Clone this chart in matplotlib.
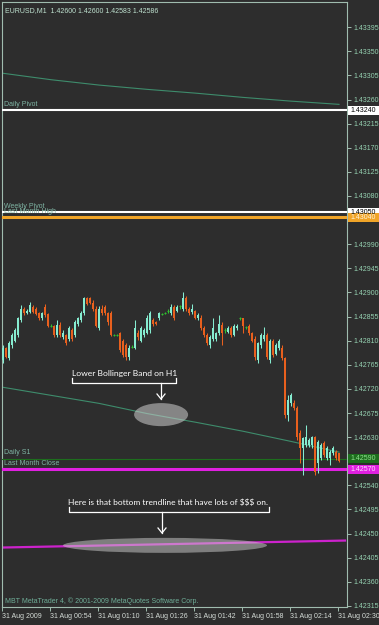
import numpy as np
import matplotlib
matplotlib.use("Agg")
import matplotlib.pyplot as plt
from matplotlib.patches import Ellipse, Rectangle
from matplotlib.lines import Line2D
from matplotlib.transforms import blended_transform_factory

W, H = 379, 625

# EURUSD M1 candles, 31 Aug 2009 00:38 .. 02:30
opens = [1.42773, 1.42796, 1.42777, 1.42801, 1.42810, 1.42820, 1.42848, 1.42870, 1.42861, 1.42863,
         1.42872, 1.42870, 1.42861, 1.42852, 1.42872, 1.42859, 1.42838, 1.42838, 1.42820, 1.42840,
         1.42816, 1.42820, 1.42814, 1.42829, 1.42820, 1.42842, 1.42848, 1.42861, 1.42889, 1.42889,
         1.42881, 1.42870, 1.42833, 1.42870, 1.42872, 1.42861, 1.42861, 1.42820, 1.42820, 1.42824,
         1.42810, 1.42801, 1.42779, 1.42799, 1.42797, 1.42825, 1.42810, 1.42820, 1.42825, 1.42829,
         1.42848, 1.42844, 1.42852, 1.42859, 1.42861, 1.42866, 1.42861, 1.42872, 1.42866, 1.42874,
         1.42870, 1.42889, 1.42870, 1.42863, 1.42866, 1.42852, 1.42853, 1.42833, 1.42820, 1.42801,
         1.42814, 1.42814, 1.42824, 1.42840, 1.42829, 1.42827, 1.42833, 1.42820, 1.42833, 1.42852,
         1.42852, 1.42835, 1.42838, 1.42824, 1.42814, 1.42773, 1.42801, 1.42814, 1.42820, 1.42773,
         1.42810, 1.42786, 1.42796, 1.42797, 1.42777, 1.42671, 1.42693, 1.42693, 1.42684, 1.42637,
         1.42609, 1.42615, 1.42615, 1.42615, 1.42630, 1.42582, 1.42591, 1.42619, 1.42591, 1.42591,
         1.42600, 1.42602, 1.42600]
highs = [1.42801, 1.42799, 1.42809, 1.42824, 1.42833, 1.42855, 1.42876, 1.42872, 1.42870, 1.42883,
         1.42876, 1.42872, 1.42863, 1.42863, 1.42879, 1.42861, 1.42842, 1.42840, 1.42848, 1.42844,
         1.42829, 1.42822, 1.42837, 1.42833, 1.42848, 1.42855, 1.42865, 1.42891, 1.42891, 1.42891,
         1.42885, 1.42874, 1.42874, 1.42876, 1.42876, 1.42863, 1.42865, 1.42822, 1.42822, 1.42827,
         1.42814, 1.42805, 1.42801, 1.42801, 1.42848, 1.42829, 1.42837, 1.42833, 1.42857, 1.42865,
         1.42852, 1.42846, 1.42863, 1.42861, 1.42863, 1.42870, 1.42879, 1.42876, 1.42876, 1.42876,
         1.42900, 1.42893, 1.42872, 1.42879, 1.42868, 1.42861, 1.42857, 1.42837, 1.42824, 1.42820,
         1.42852, 1.42827, 1.42857, 1.42844, 1.42833, 1.42837, 1.42837, 1.42842, 1.42842, 1.42855,
         1.42853, 1.42838, 1.42842, 1.42827, 1.42818, 1.42807, 1.42824, 1.42835, 1.42824, 1.42814,
         1.42814, 1.42805, 1.42814, 1.42801, 1.42779, 1.42708, 1.42712, 1.42699, 1.42689, 1.42643,
         1.42630, 1.42652, 1.42628, 1.42633, 1.42633, 1.42624, 1.42619, 1.42622, 1.42613, 1.42606,
         1.42613, 1.42606, 1.42600]
lows = [1.42769, 1.42777, 1.42773, 1.42797, 1.42807, 1.42816, 1.42844, 1.42857, 1.42859, 1.42861,
        1.42861, 1.42857, 1.42848, 1.42848, 1.42855, 1.42835, 1.42835, 1.42816, 1.42816, 1.42816,
        1.42814, 1.42801, 1.42810, 1.42810, 1.42816, 1.42838, 1.42844, 1.42857, 1.42876, 1.42878,
        1.42866, 1.42835, 1.42829, 1.42857, 1.42857, 1.42840, 1.42818, 1.42818, 1.42818, 1.42788,
        1.42779, 1.42773, 1.42773, 1.42796, 1.42794, 1.42812, 1.42807, 1.42816, 1.42822, 1.42825,
        1.42838, 1.42840, 1.42848, 1.42857, 1.42859, 1.42861, 1.42857, 1.42848, 1.42863, 1.42870,
        1.42866, 1.42866, 1.42857, 1.42859, 1.42850, 1.42848, 1.42829, 1.42816, 1.42801, 1.42797,
        1.42810, 1.42810, 1.42820, 1.42801, 1.42825, 1.42824, 1.42816, 1.42818, 1.42829, 1.42848,
        1.42824, 1.42831, 1.42820, 1.42807, 1.42773, 1.42769, 1.42797, 1.42810, 1.42775, 1.42769,
        1.42779, 1.42783, 1.42792, 1.42773, 1.42665, 1.42661, 1.42689, 1.42680, 1.42624, 1.42582,
        1.42559, 1.42611, 1.42611, 1.42609, 1.42559, 1.42563, 1.42587, 1.42593, 1.42587, 1.42578,
        1.42596, 1.42587, 1.42583]
closes = [1.42796, 1.42779, 1.42805, 1.42820, 1.42829, 1.42852, 1.42870, 1.42861, 1.42866, 1.42876,
          1.42863, 1.42859, 1.42852, 1.42861, 1.42857, 1.42838, 1.42838, 1.42820, 1.42840, 1.42820,
          1.42825, 1.42805, 1.42833, 1.42814, 1.42844, 1.42852, 1.42861, 1.42889, 1.42879, 1.42881,
          1.42870, 1.42838, 1.42870, 1.42861, 1.42861, 1.42844, 1.42820, 1.42820, 1.42820, 1.42792,
          1.42783, 1.42779, 1.42797, 1.42799, 1.42833, 1.42816, 1.42833, 1.42829, 1.42853, 1.42861,
          1.42842, 1.42842, 1.42861, 1.42859, 1.42861, 1.42866, 1.42872, 1.42852, 1.42872, 1.42874,
          1.42889, 1.42870, 1.42861, 1.42870, 1.42853, 1.42857, 1.42833, 1.42820, 1.42805, 1.42816,
          1.42833, 1.42824, 1.42842, 1.42825, 1.42829, 1.42833, 1.42820, 1.42838, 1.42838, 1.42852,
          1.42838, 1.42835, 1.42824, 1.42810, 1.42779, 1.42805, 1.42820, 1.42820, 1.42779, 1.42810,
          1.42783, 1.42801, 1.42810, 1.42777, 1.42671, 1.42699, 1.42708, 1.42684, 1.42630, 1.42609,
          1.42628, 1.42630, 1.42624, 1.42630, 1.42565, 1.42620, 1.42615, 1.42596, 1.42609, 1.42602,
          1.42609, 1.42591, 1.42586]

# H1 Bollinger band lines and the weekly trendline, sampled at the time ticks
band_times = [0, 16, 32, 48, 64, 80, 96, 112]
upper_band = [1.43309, 1.43297, 1.43287, 1.43279, 1.43272, 1.43264, 1.43257, 1.43251]
lower_band = [1.42723, 1.42708, 1.42693, 1.42674, 1.42658, 1.42641, 1.42622, 1.42602]
trend_times = [0, 114]
trend_values = [1.42424, 1.42437]

level_names = ["Daily Pivot", "Weekly Pivot", "Last Month High", "Daily S1", "Last Month Close"]
level_prices = [1.43240, 1.43050, 1.43040, 1.42590, 1.42570]
level_colors = ["#ffffff", "#ffffff", "#f0a428", "#1d6e1d", "#e020e0"]
level_widths = [1.5, 1.5, 2.2, 0.8, 2.2]
box_text_colors = ["#000000", "#000000", "#fff4dc", "#8fe08f", "#ffe0ff"]

time_labels = ["31 Aug 2009", "31 Aug 00:54", "31 Aug 01:10", "31 Aug 01:26",
               "31 Aug 01:42", "31 Aug 01:58", "31 Aug 02:14", "31 Aug 02:30"]
# the 1.42585 and 1.43035 ticks sit under the level boxes in the original
price_ticks = ["1.42315", "1.42360", "1.42405", "1.42450", "1.42495", "1.42540",
               "1.42630", "1.42675", "1.42720", "1.42765", "1.42810", "1.42855", "1.42900",
               "1.42945", "1.42990", "1.43080", "1.43125", "1.43170", "1.43215",
               "1.43260", "1.43305", "1.43350", "1.43395"]

BG = "#2d2d2d"
AXC = "#9fbcae"
TICKC = "#96d2b2"
BULL = "#86ecd0"
BEAR = "#e8601e"
DOJI = "#2fc02f"
FONT = "Liberation Sans"
FS = 5.0


def fx(px):
    return px / W


def fy(py):
    return 1 - py / H


fig = plt.figure(figsize=(W / 100, H / 100), dpi=100, facecolor=BG)
ax = fig.add_axes([fx(2), fy(607), 345 / W, 605 / H], facecolor=BG)
ax.set_xlim(-1 / 3, 345 / 3 - 1 / 3)
ax.set_ylim(1.42313, 1.43442)

bt = blended_transform_factory(ax.transAxes, ax.transData)

# indicator lines
ax.plot(band_times, upper_band, color="#3e8c6c", lw=0.8, zorder=2)
ax.plot(band_times, lower_band, color="#3e8c6c", lw=0.8, zorder=2)
ax.plot(trend_times, trend_values, color="#cc22cc", lw=1.6, zorder=2)

for name, p, c, lw in zip(level_names, level_prices, level_colors, level_widths):
    ax.axhline(p, color=c, lw=lw, zorder=3)
    ax.text(0.006, p + 0.00004, name, transform=bt, color="#7fb5a4", fontsize=FS,
            family=FONT, va="bottom", ha="left", zorder=4)

# candles
x = np.arange(len(closes))
o = np.array(opens)
c = np.array(closes)
cols = [BULL if cc > oo else (BEAR if cc < oo else DOJI) for oo, cc in zip(o, c)]
ax.vlines(x, lows, highs, colors=cols, lw=0.75, zorder=5)
body = np.abs(c - o)
ax.bar(x, body, bottom=np.minimum(o, c), width=0.7, color=cols, lw=0, zorder=6)
doji = body == 0
ax.hlines(o[doji], x[doji] - 0.45, x[doji] + 0.45, colors=DOJI, lw=0.8, zorder=6)

# annotations
ax.add_patch(Ellipse((52.7, 1.42672), 18, 0.00043, facecolor="#cfcfcf", alpha=0.55,
                     lw=0, zorder=7))
ax.add_patch(Ellipse((54, 1.42428), 68, 0.00028, facecolor="#cfcfcf", alpha=0.5,
                     lw=0, zorder=7))

fig.text(fx(72), fy(376), "Lower Bollinger Band on H1", color="white", fontsize=6.1,
         family="Lato", va="baseline", ha="left")
fig.add_artist(Line2D([fx(72), fx(72), fx(176), fx(176)], [fy(378), fy(383), fy(383), fy(378)],
                      transform=fig.transFigure, color="white", lw=0.9))
fig.add_artist(Line2D([fx(161), fx(161)], [fy(383), fy(399)], transform=fig.transFigure,
                      color="white", lw=0.9))
fig.add_artist(Line2D([fx(157), fx(161), fx(165)], [fy(394), fy(399), fy(394)],
                      transform=fig.transFigure, color="white", lw=0.9))

fig.text(fx(68), fy(505), "Here is that bottom trendline that have lots of $$$ on.",
         color="white", fontsize=6.05, family="Lato", va="baseline", ha="left")
fig.add_artist(Line2D([fx(69), fx(69), fx(269), fx(269)], [fy(507), fy(512), fy(512), fy(507)],
                      transform=fig.transFigure, color="white", lw=0.9))
fig.add_artist(Line2D([fx(162), fx(162)], [fy(512), fy(533)], transform=fig.transFigure,
                      color="white", lw=0.9))
fig.add_artist(Line2D([fx(158), fx(162), fx(166)], [fy(528), fy(533), fy(528)],
                      transform=fig.transFigure, color="white", lw=0.9))

# header / footer
ax.text(0.009, 0.992, "EURUSD,M1  1.42600 1.42600 1.42583 1.42586", transform=ax.transAxes,
        color="#bfe2d0", fontsize=FS, family=FONT, va="top", ha="left")
ax.text(0.009, 0.004, "MBT MetaTrader 4, \u00a9 2001-2009 MetaQuotes Software Corp.",
        transform=ax.transAxes, color="#6fae98", fontsize=FS, family=FONT,
        va="bottom", ha="left")

# price boxes at the right
bh = 9 * 0.00001865
for p, fc, tc in zip(level_prices, level_colors, box_text_colors):
    ax.add_patch(Rectangle((1.003, p - bh / 2), 0.095, bh, transform=bt, facecolor=fc,
                           edgecolor="none", clip_on=False, zorder=20))
    ax.text(1.011, p, "%.5f" % p, transform=bt, color=tc, fontsize=FS, family=FONT,
            va="center", ha="left", clip_on=False, zorder=21)

# axes
for s in ax.spines.values():
    s.set_color(AXC)
    s.set_linewidth(0.8)
ax.yaxis.tick_right()
ax.set_yticks([float(t) for t in price_ticks])
ax.set_yticklabels(price_ticks)
ax.set_xticks([t - 1 / 3 for t in band_times])
ax.set_xticklabels(time_labels, ha="left")
ax.tick_params(axis="y", direction="out", length=3, width=0.7, color=AXC, pad=1.5,
               labelcolor=TICKC, labelsize=FS)
ax.tick_params(axis="x", direction="out", length=3, width=0.7, color=AXC, pad=1,
               labelcolor="#d6ddd8", labelsize=FS)
for lab in ax.get_xticklabels() + ax.get_yticklabels():
    lab.set_family(FONT)

fig.savefig("out.png", dpi=100, facecolor=BG)
